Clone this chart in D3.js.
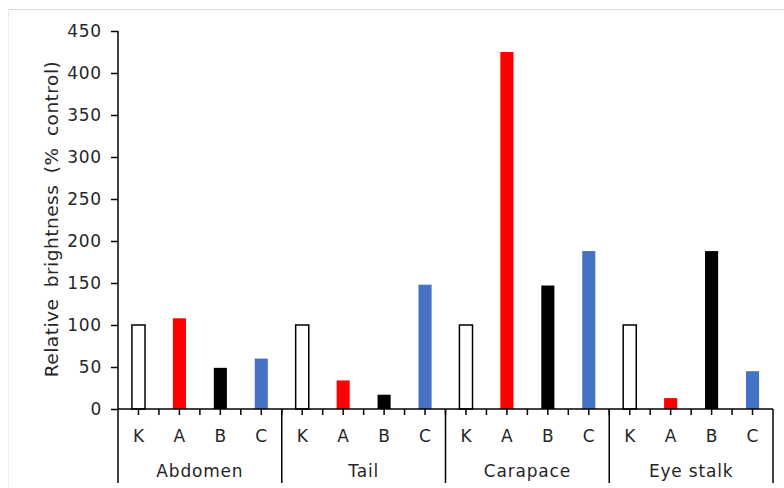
<!DOCTYPE html>
<html>
<head>
<meta charset="utf-8">
<script src="https://cdn.jsdelivr.net/npm/d3@7"></script>
<style>
  body { margin: 0; background: #fff; }
  text { font-family: "DejaVu Sans", Verdana, sans-serif; fill: #262626; }
</style>
</head>
<body>
<div id="chart"></div>
<script>
// data
const groups = ["Abdomen", "Tail", "Carapace", "Eye stalk"];
const series = ["K", "A", "B", "C"];
const valuesK = [100, 100, 100, 100];
const valuesA = [108, 34, 425, 13];
const valuesB = [49, 17, 147, 188];
const valuesC = [60, 148, 188, 45];
const yTicks = [0, 50, 100, 150, 200, 250, 300, 350, 400, 450];
const colors = { K: "#ffffff", A: "#ff0000", B: "#000000", C: "#4472c4" };

const W = 784, H = 488;
const x0 = 118, x1 = 773, yTop = 31, yBase = 409, yBottom = 483;
const fontSize = "17px";

const svg = d3.select("#chart").append("svg")
    .attr("width", W)
    .attr("height", H);

// faint outer frame (top + left only)
svg.append("line").attr("x1", 8).attr("x2", W).attr("y1", 9.5).attr("y2", 9.5)
    .attr("stroke", "#d9d9d9");
svg.append("line").attr("x1", 8.5).attr("x2", 8.5).attr("y1", 9).attr("y2", H)
    .attr("stroke", "#d9d9d9").attr("stroke-dasharray", "1,1");

// scales
const y = d3.scaleLinear().domain([0, 450]).range([yBase, yTop]);
const xGroup = d3.scaleBand().domain(groups).range([x0, x1]);
const xInner = d3.scaleBand().domain(series).range([0, xGroup.bandwidth()]);

// one row per bar
const rows = [];
groups.forEach((g, i) => {
    rows.push({ g, s: "K", v: valuesK[i] });
    rows.push({ g, s: "A", v: valuesA[i] });
    rows.push({ g, s: "B", v: valuesB[i] });
    rows.push({ g, s: "C", v: valuesC[i] });
});

const barW = xInner.bandwidth() * 0.32;
svg.append("g").selectAll("rect")
    .data(rows)
    .enter()
    .append("rect")
    .attr("x", d => xGroup(d.g) + xInner(d.s) + (xInner.bandwidth() - barW) / 2)
    .attr("y", d => y(d.v))
    .attr("width", barW)
    .attr("height", d => yBase - y(d.v))
    .attr("fill", d => colors[d.s])
    .attr("stroke", d => d.s === "K" ? "#000" : "none")
    .attr("stroke-width", 1.5);

// y axis
const yAxis = svg.append("g")
    .attr("transform", `translate(${x0},0)`)
    .call(d3.axisLeft(y).tickValues(yTicks).tickSize(7).tickPadding(9));
yAxis.select(".domain").remove();
yAxis.selectAll("line").attr("stroke", "#000").attr("stroke-width", 1.5);
yAxis.selectAll("text")
    .attr("fill", "#262626")
    .style("font-size", fontSize)
    .style("letter-spacing", "0.8px")
    .style("font-family", "'DejaVu Sans', Verdana, sans-serif");
svg.append("line").attr("x1", x0).attr("x2", x0).attr("y1", y(450)).attr("y2", yBottom)
    .attr("stroke", "#000").attr("stroke-width", 1.5);

// x axis line and ticks (at band centres and band edges)
svg.append("line").attr("x1", x0).attr("x2", x1).attr("y1", yBase).attr("y2", yBase)
    .attr("stroke", "#000").attr("stroke-width", 1.5);
const tickPos = [];
groups.forEach(g => {
    series.forEach(s => {
        const left = xGroup(g) + xInner(s);
        tickPos.push(left);
        tickPos.push(left + xInner.bandwidth() / 2);
    });
});
svg.append("g").selectAll("line")
    .data(tickPos.filter(p => p > x0 + 1))
    .enter()
    .append("line")
    .attr("x1", d => d).attr("x2", d => d)
    .attr("y1", yBase).attr("y2", yBase + 6)
    .attr("stroke", "#000").attr("stroke-width", 1.5);

// category labels
svg.append("g").selectAll("text")
    .data(rows)
    .enter()
    .append("text")
    .attr("x", d => xGroup(d.g) + xInner(d.s) + xInner.bandwidth() / 2)
    .attr("y", 442)
    .attr("text-anchor", "middle")
    .style("font-size", fontSize)
    .text(d => d.s);

// group separators and labels
svg.append("g").selectAll("line")
    .data(groups.map(g => xGroup(g) + xGroup.bandwidth()))
    .enter()
    .append("line")
    .attr("x1", d => d).attr("x2", d => d)
    .attr("y1", yBase).attr("y2", yBottom)
    .attr("stroke", "#000").attr("stroke-width", 1.5);

svg.append("g").selectAll("text")
    .data(groups)
    .enter()
    .append("text")
    .attr("x", d => xGroup(d) + xGroup.bandwidth() / 2)
    .attr("y", 477)
    .attr("text-anchor", "middle")
    .style("font-size", fontSize)
    .style("letter-spacing", "0.8px")
    .text(d => d);

// y axis title
svg.append("text")
    .attr("transform", "rotate(-90)")
    .attr("x", -219)
    .attr("y", 58)
    .attr("text-anchor", "middle")
    .style("font-size", "18.5px")
    .style("letter-spacing", "0.5px")
    .style("word-spacing", "5px")
    .text("Relative brightness (% control)");
</script>
</body>
</html>
